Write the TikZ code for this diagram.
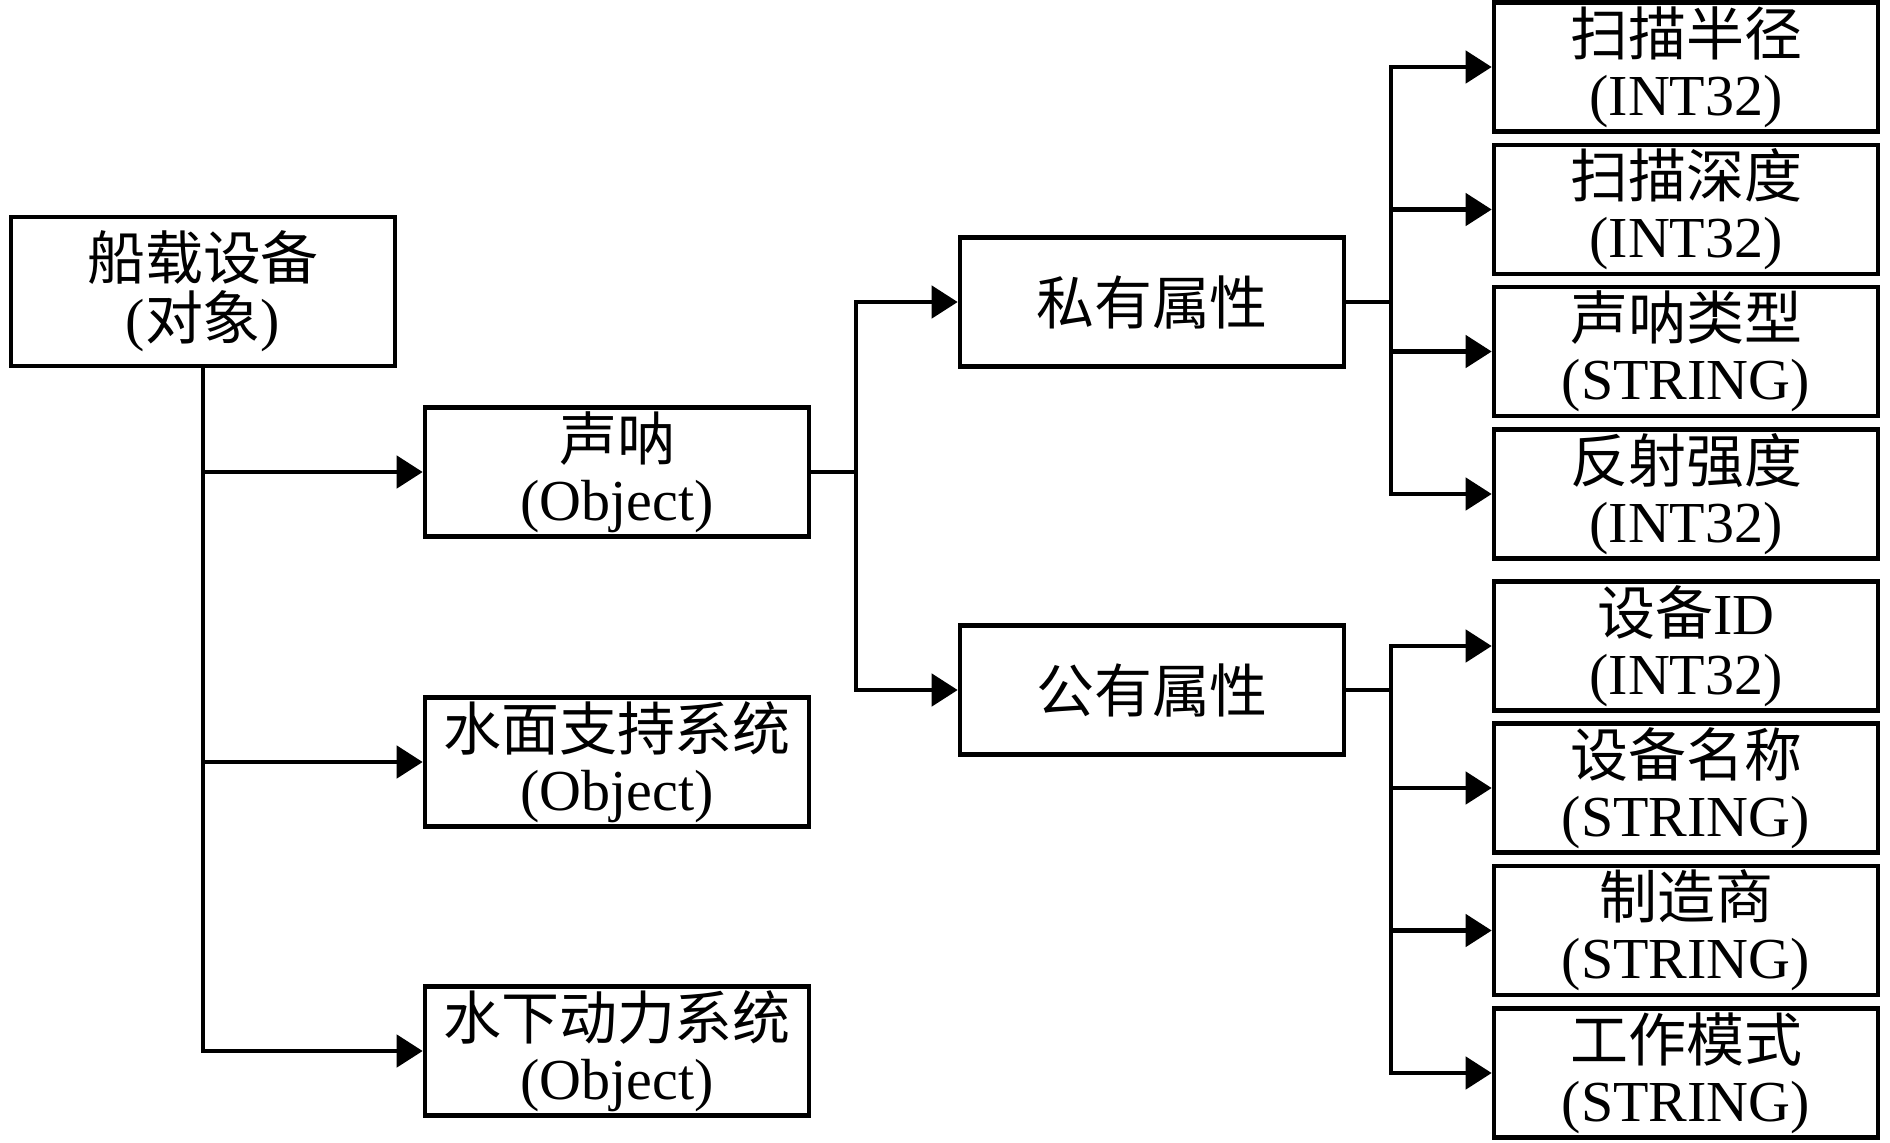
\documentclass[tikz,border=0pt]{standalone}
\usepackage{fontspec}
\setmainfont{Liberation Serif}
\newfontfamily\cjk{Noto Sans CJK SC}
\usetikzlibrary{arrows.meta}
\newcommand{\zh}[1]{{\cjk #1}}

\begin{document}
\begin{tikzpicture}[
    font=\fontsize{16.5}{17}\selectfont,
    box/.style={draw, line width=1.3pt, minimum width=3.84cm,
                minimum height=1.29cm, align=center, inner sep=0pt},
    rootbox/.style={box, minimum height=1.49cm},
    flow/.style={-{Triangle[length=2.6mm,width=3.2mm]}, line width=1.3pt},
    link/.style={line width=1.3pt},
  ]
  \useasboundingbox (0,0) rectangle (18.9,-11.42);
  % equipment and its sub systems
  \node[rootbox] (ship) at (2.03,-2.915) {\zh{船载设备}\\(\zh{对象})};
  \node[box] (sonar) at (6.17,-4.72) {\zh{声呐}\\(Object)};
  \node[box] (surface) at (6.17,-7.62) {\zh{水面支持系统}\\(Object)};
  \node[box] (under) at (6.17,-10.51) {\zh{水下动力系统}\\(Object)};
  \draw[flow] (ship.south) |- (sonar.west);
  \draw[flow] (ship.south) |- (surface.west);
  \draw[flow] (ship.south) |- (under.west);
  % attribute groups
  \node[box] (private) at (11.52,-3.02) {\zh{私有属性}};
  \node[box] (public) at (11.52,-6.90) {\zh{公有属性}};
  \coordinate (sj) at (8.56,-4.72);
  \draw[link] (sonar.east) -- (sj);
  \draw[flow] (sj) |- (private.west);
  \draw[flow] (sj) |- (public.west);
  % attributes
  \coordinate (pj) at (13.91,-3.02);
  \coordinate (qj) at (13.91,-6.90);
  \draw[link] (private.east) -- (pj);
  \draw[link] (public.east) -- (qj);
  \foreach \name/\y/\txt/\typ in {
      radius/-0.67/扫描半径/INT32,
      depth/-2.095/扫描深度/INT32,
      kind/-3.515/声呐类型/STRING,
      echo/-4.94/反射强度/INT32} {
    \node[box] (\name) at (16.86,\y) {\zh{\txt}\\(\typ)};
    \draw[flow] (pj) |- (\name.west);
  }
  \node[box] (devid) at (16.86,-6.46) {\zh{设备}ID\\(INT32)};
  \draw[flow] (qj) |- (devid.west);
  \foreach \name/\y/\txt in {
      devname/-7.88/设备名称,
      maker/-9.305/制造商,
      mode/-10.73/工作模式} {
    \node[box] (\name) at (16.86,\y) {\zh{\txt}\\(STRING)};
    \draw[flow] (qj) |- (\name.west);
  }
\end{tikzpicture}
\end{document}
